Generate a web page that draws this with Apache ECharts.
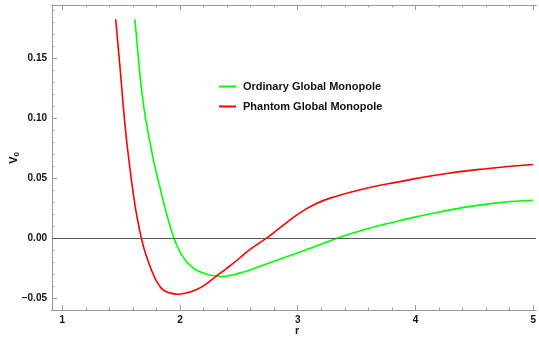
<!DOCTYPE html>
<html>
<head>
<meta charset="utf-8">
<script src="https://cdn.jsdelivr.net/npm/echarts@6/dist/echarts.min.js"></script>
<style>
  html, body { margin: 0; padding: 0; background: #fff; }
  #chart { width: 539px; height: 338px; }
</style>
</head>
<body>
<div id="chart"></div>
<script>
// Effective potential V0(r) for the two monopole models
const seriesNames = ['Ordinary Global Monopole', 'Phantom Global Monopole'];

const ordinaryR = [1.617, 1.645, 1.674, 1.710, 1.761, 1.790, 1.828, 1.885, 1.949, 2.000, 2.050, 2.100, 2.150, 2.250, 2.350, 2.505, 2.674, 2.871, 3.153, 3.336, 3.576, 3.857, 4.195, 4.618, 5.0];
const ordinaryV = [0.1828, 0.1520, 0.1236, 0.0986, 0.0720, 0.0585, 0.0430, 0.0208, 0.0, -0.0115, -0.0190, -0.0238, -0.0272, -0.0308, -0.0320, -0.0292, -0.0237, -0.0167, -0.0068, 0.0, 0.0075, 0.0144, 0.0217, 0.0286, 0.0317];

const phantomR = [1.454, 1.494, 1.533, 1.566, 1.611, 1.643, 1.672, 1.700, 1.744, 1.786, 1.820, 1.856, 1.920, 1.983, 2.050, 2.138, 2.220, 2.308, 2.400, 2.500, 2.589, 2.660, 2.735, 2.850, 3.012, 3.150, 3.293, 3.575, 3.857, 4.195, 4.618, 5.0];
const phantomV = [0.1828, 0.1386, 0.0944, 0.0653, 0.0319, 0.0137, 0.0, -0.0105, -0.0231, -0.0331, -0.0388, -0.0431, -0.0459, -0.0468, -0.0458, -0.0431, -0.0384, -0.0318, -0.0250, -0.0172, -0.0098, -0.0050, 0.0, 0.0088, 0.0207, 0.0285, 0.0340, 0.0415, 0.0470, 0.0530, 0.0582, 0.0615];

const xMajor = [1, 2, 3, 4, 5];
const xMinor = [1.2, 1.4, 1.6, 1.8, 2.2, 2.4, 2.6, 2.8, 3.2, 3.4, 3.6, 3.8, 4.2, 4.4, 4.6, 4.8];
const yMajor = [-0.05, 0.0, 0.05, 0.1, 0.15];
const yMinor = [-0.06, -0.04, -0.03, -0.02, -0.01, 0.01, 0.02, 0.03, 0.04, 0.06, 0.07, 0.08, 0.09, 0.11, 0.12, 0.13, 0.14, 0.16, 0.17, 0.18, 0.19];

const xRange = [0.913, 5.024];
const yRange = [-0.06, 0.1947];

const frameColor = '#9a9a9a';
const labelFont = { color: '#111', fontFamily: 'Liberation Sans', fontWeight: 'bold', fontSize: 10 };

function zip(a, b) { return a.map((v, i) => [v, b[i]]); }

function xAx(pos, values, len, showLabel) {
  return {
    type: 'value', position: pos, min: xRange[0], max: xRange[1],
    axisLine: { show: true, onZero: false, lineStyle: { color: frameColor, width: 1 } },
    axisTick: { show: true, inside: true, length: len, customValues: values, lineStyle: { color: frameColor } },
    axisLabel: showLabel ? Object.assign({ show: true, margin: 5, customValues: values, formatter: v => String(Math.round(v)) }, labelFont) : { show: false },
    splitLine: { show: false }
  };
}
function yAx(pos, values, len, showLabel) {
  return {
    type: 'value', position: pos, min: yRange[0], max: yRange[1],
    axisLine: { show: true, onZero: false, lineStyle: { color: frameColor, width: 1 } },
    axisTick: { show: true, inside: true, length: len, customValues: values, lineStyle: { color: frameColor } },
    axisLabel: showLabel ? Object.assign({ show: true, margin: 5, customValues: values,
      formatter: v => (v < 0 ? '\u2212' : '') + Math.abs(v).toFixed(2) }, labelFont) : { show: false },
    splitLine: { show: false }
  };
}

const chart = echarts.init(document.getElementById('chart'), null, { renderer: 'canvas' });
chart.setOption({
  animation: false,
  backgroundColor: '#fff',
  grid: { left: 52, right: 1, top: 5, bottom: 28, containLabel: false },
  xAxis: [
    xAx('bottom', xMajor, 5, true),
    xAx('bottom', xMinor, 2.5, false),
    xAx('top', xMajor, 5, false),
    xAx('top', xMinor, 2.5, false)
  ],
  yAxis: [
    yAx('left', yMajor, 5, true),
    yAx('left', yMinor, 2.5, false)
  ],
  legend: {
    orient: 'vertical', left: 214, top: 76, itemGap: 9,
    icon: 'rect', itemWidth: 17, itemHeight: 2,
    textStyle: { color: '#111', fontFamily: 'Liberation Sans', fontWeight: 'bold', fontSize: 11, padding: [0, 0, 0, 2] },
    data: seriesNames
  },
  graphic: [
    { type: 'text', left: 8, top: 152, rotation: Math.PI / 2,
      style: { rich: { v: { font: 'bold 11px Liberation Sans', fill: '#111' }, s: { font: 'bold 8px Liberation Sans', fill: '#111', padding: [6, 0, 0, 0] } },
               text: '{v|V}{s|0}' } },
    { type: 'text', left: 295, top: 325,
      style: { text: 'r', font: 'bold 11px Liberation Sans', fill: '#111' } }
  ],
  series: [
    {
      name: seriesNames[0], type: 'line', xAxisIndex: 0, yAxisIndex: 0,
      data: zip(ordinaryR, ordinaryV), smooth: 0.5, showSymbol: false, symbol: 'none',
      lineStyle: { color: '#00ff00', width: 1.6 }, itemStyle: { color: '#00ff00' },
      markLine: { silent: true, symbol: 'none', label: { show: false },
        lineStyle: { color: '#555', width: 1, type: 'solid' }, data: [{ yAxis: 0 }] }
    },
    {
      name: seriesNames[1], type: 'line', xAxisIndex: 0, yAxisIndex: 0,
      data: zip(phantomR, phantomV), smooth: 0.5, showSymbol: false, symbol: 'none',
      lineStyle: { color: '#ff0000', width: 1.6 }, itemStyle: { color: '#ff0000' }
    }
  ]
});
</script>
</body>
</html>
